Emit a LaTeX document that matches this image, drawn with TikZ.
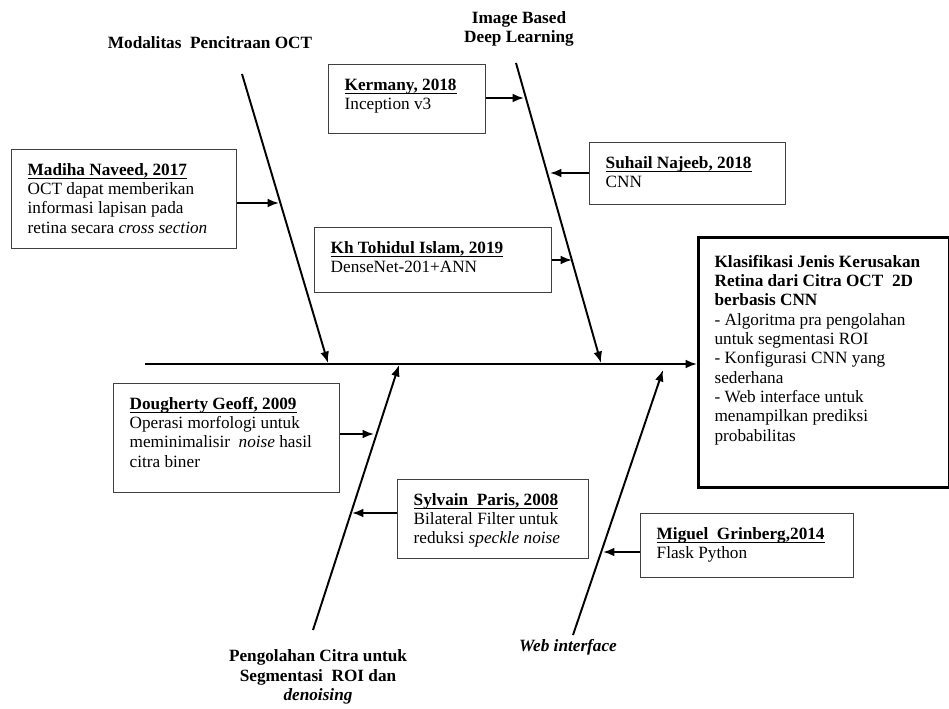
\documentclass[tikz,border=0pt]{standalone}
\usepackage{fontspec}
\setmainfont{Liberation Serif}
\usetikzlibrary{arrows.meta, positioning}
\tikzset{
  bodytext/.style={font=\fontsize{9.8}{11}\selectfont}
}
\tikzset{
  labeltext/.style={font=\fontsize{9.8}{11}\selectfont\bfseries, align=center}
}
\tikzset{
  litbox/.style={draw=black!75, line width=0.8pt, anchor=north west, inner xsep=0.32cm, inner ysep=0.24cm, bodytext},
  bone/.style={line width=1.1pt}
}
\newsavebox{\ulbox}
\newcommand{\ulbold}[1]{\sbox{\ulbox}{\textbf{#1}}\rlap{\rule[-2.4pt]{\wd\ulbox}{0.9pt}}\usebox{\ulbox}}
\newcommand{\litnote}[4]{\parbox[t][#2][t]{#1}{\begin{tabular}[t]{@{}l@{}}\ulbold{#3}\\#4\end{tabular}}}

\begin{document}
\begin{tikzpicture}[>={Latex[length=6.5pt,width=5pt]}, x=0.02cm, y=-0.02cm]
      \useasboundingbox (0,0) rectangle (949,709);
      % head
      \node[litbox, draw=black, line width=1.8pt, inner xsep=0.32cm, inner ysep=0.32cm] (head) at (697,236)
        {\parbox[t][4.36cm][t]{4.38cm}{\begin{tabular}[t]{@{}l@{}}
          \textbf{Klasifikasi Jenis Kerusakan}\\
          \textbf{Retina dari Citra OCT\ \ 2D}\\
          \textbf{berbasis CNN}\\
          - Algoritma pra pengolahan\\
          untuk segmentasi ROI\\
          - Konfigurasi CNN yang\\
          sederhana\\
          - Web interface untuk\\
          menampilkan prediksi\\
          probabilitas
        \end{tabular}}};
      % spine
      \coordinate (tail) at (145,364);
      \draw[->, bone] (tail) -- (tail -| head.west);
      % bones
      \coordinate (octtop) at (242,74);
      \coordinate (octend) at (328,363);
      \coordinate (dltop) at (516,63);
      \coordinate (dlend) at (601,363);
      \coordinate (roibot) at (313,630);
      \coordinate (roiend) at (399,365);
      \coordinate (webbot) at (573,635);
      \coordinate (webend) at (663,370);
      \draw[->, bone] (octtop) -- (octend);
      \draw[->, bone] (dltop) -- (dlend);
      \draw[->, bone] (roibot) -- (roiend);
      \draw[->, bone] (webbot) -- (webend);
      \node[labeltext] (octlabel) at (210,43) {Modalitas\ \ Pencitraan OCT};
      \node[labeltext] (dllabel) at (519,29) {Image Based\\Deep Learning};
      \node[labeltext] (roilabel) at (318,677) {Pengolahan Citra untuk\\Segmentasi\ \ ROI dan\\\textit{denoising}};
      \node[labeltext, font=\fontsize{9.8}{11}\selectfont\bfseries\itshape] (weblabel) at (568,647) {Web interface};
      % literature boxes, upper side
      \node[litbox] (naveed) at (11,149)
        {\litnote{3.86cm}{1.50cm}{Madiha Naveed, 2017}{OCT dapat memberikan\\informasi lapisan pada\\retina secara \textit{cross section}}};
      \node[litbox] (kermany) at (328,64)
        {\litnote{2.50cm}{0.90cm}{Kermany, 2018}{Inception v3}};
      \node[litbox] (najeeb) at (589,142)
        {\litnote{3.28cm}{0.76cm}{Suhail Najeeb, 2018}{CNN}};
      \node[litbox] (islam) at (314,227)
        {\litnote{4.10cm}{0.82cm}{Kh Tohidul Islam, 2019}{DenseNet-201+ANN}};
      \coordinate (naveedhit) at (279,203);
      \coordinate (kermanyhit) at (524,98);
      \coordinate (najeebhit) at (550,173);
      \coordinate (islamhit) at (572,260);
      \draw[->, bone] (naveed.east |- naveedhit) -- (naveedhit);
      \draw[->, bone] (kermany.east |- kermanyhit) -- (kermanyhit);
      \draw[->, bone] (najeeb.west |- najeebhit) -- (najeebhit);
      \draw[->, bone] (islam.east |- islamhit) -- (islamhit);
      % literature boxes, lower side
      \node[litbox] (geoff) at (113,383)
        {\litnote{3.88cm}{1.70cm}{Dougherty Geoff, 2009}{Operasi morfologi untuk\\meminimalisir\ \ \textit{noise} hasil\\citra biner}};
      \node[litbox] (paris) at (397,479)
        {\litnote{3.18cm}{1.10cm}{Sylvain\ \ Paris, 2008}{Bilateral Filter untuk\\reduksi \textit{speckle noise}}};
      \node[litbox] (grinberg) at (640,513)
        {\litnote{3.62cm}{0.80cm}{Miguel\ \ Grinberg,2014}{Flask Python}};
      \coordinate (geoffhit) at (374,434);
      \coordinate (parishit) at (352,513);
      \coordinate (grinberghit) at (603,552);
      \draw[->, bone] (geoff.east |- geoffhit) -- (geoffhit);
      \draw[->, bone] (paris.west |- parishit) -- (parishit);
      \draw[->, bone] (grinberg.west |- grinberghit) -- (grinberghit);
    \end{tikzpicture}
\end{document}
